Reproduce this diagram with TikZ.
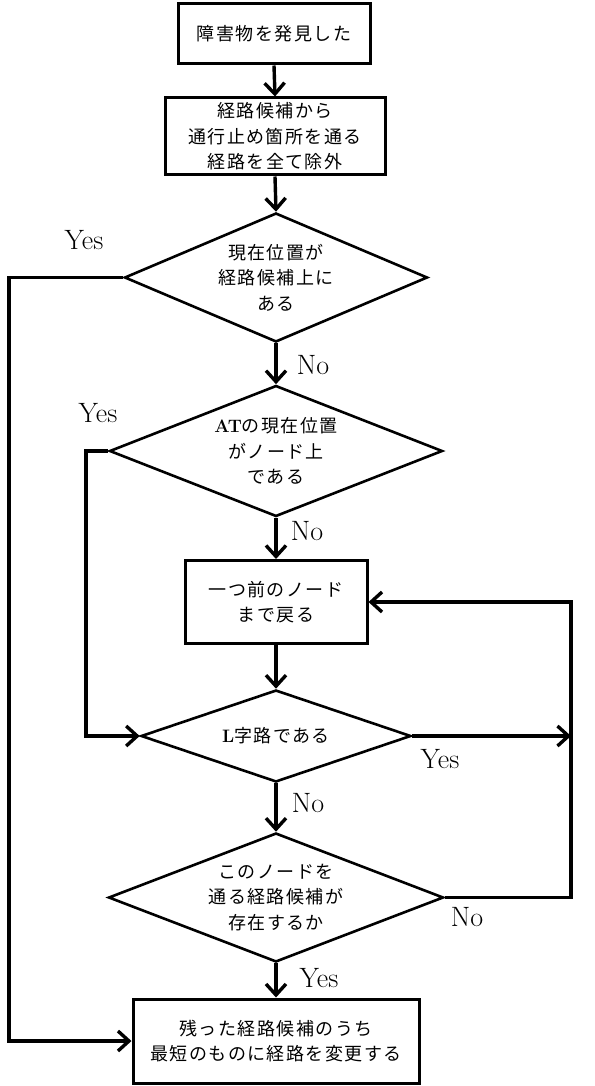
\documentclass[tikz,border=0pt]{standalone}
\usepackage{fontspec}
\newfontfamily\jp{Noto Sans CJK JP}[LetterSpace=8]
\usetikzlibrary{shapes.geometric,arrows.meta}
\begin{document}
\begin{tikzpicture}[x=1pt,y=-1pt,
  jptext/.style={font=\jp\fontsize{18}{25.5}\selectfont, align=center},
  procbox/.style={draw, line width=3pt, jptext, inner sep=2pt},
  decision/.style={diamond, draw, line width=2.6pt, jptext, inner sep=0pt},
  conn/.style={line width=3.4pt, line join=miter},
  arr/.style={conn, -{Straight Barb[length=11pt,width=20pt]}},
  lbl/.style={font=\fontsize{28}{28}\selectfont, inner sep=0pt}]
\useasboundingbox (0,0) rectangle (594,1086);

\node[procbox, minimum width=192pt, minimum height=60pt] (b1) at (274,34) {障害物を発見した};
\node[procbox, minimum width=220pt, minimum height=77pt] (b2) at (275,136.5) {経路候補から\\通行止め箇所を通る\\経路を全て除外};
\node[decision, shape aspect=2.35, minimum width=303pt, minimum height=129pt] (d1) at (276,277.5) {現在位置が\\経路候補上に\\ある};
\node[decision, shape aspect=2.54, minimum width=333pt, minimum height=131pt] (d2) at (276,451) {{\rmfamily\bfseries AT}の現在位置\\がノード上\\である};
\node[procbox, minimum width=182pt, minimum height=83pt] (b3) at (276,602) {一つ前のノード\\まで戻る};
\node[decision, shape aspect=2.93, minimum width=270pt, minimum height=92pt] (d3) at (276,736) {{\rmfamily\bfseries L}字路である};
\node[decision, shape aspect=2.6, minimum width=335pt, minimum height=129pt] (d4) at (276,897.5) {このノードを\\通る経路候補が\\存在するか};
\node[procbox, minimum width=286pt, minimum height=84pt] (b6) at (276,1041) {残った経路候補のうち\\最短のものに経路を変更する};

\coordinate (L1) at (9,0);
\coordinate (L2) at (86,0);
\coordinate (R) at (571,0);

\draw[arr] (b1.south) -- (b2.north);
\draw[arr] (b2.south) -- (d1.north);
\draw[arr] (d1.south) -- (d2.north);
\draw[arr] (d2.south) -- (b3.north);
\draw[arr] (b3.south) -- (d3.north);
\draw[arr] (d3.south) -- (d4.north);
\draw[arr] (d4.south) -- (b6.north);

\draw[arr] (d1.west) -- (d1.west -| L1) -- (L1 |- b6.west) -- (b6.west);
\draw[arr] (d2.west) -- (d2.west -| L2) -- (L2 |- d3.west) -- (d3.west);
\draw[arr] (d3.east) -- (d3.east -| R);
\draw[arr] (d4.east) -- (d4.east -| R) -- (R |- b3.east) -- (b3.east);

\node[lbl] (y1) at (84,240) {Yes};
\node[lbl] (n1) at (313,365) {No};
\node[lbl] (y2) at (98,413) {Yes};
\node[lbl] (n2) at (307,531) {No};
\node[lbl] (y3) at (440,759) {Yes};
\node[lbl] (n3) at (308,803) {No};
\node[lbl] (n4) at (467,917) {No};
\node[lbl] (y4) at (319,978) {Yes};
\end{tikzpicture}
\end{document}
